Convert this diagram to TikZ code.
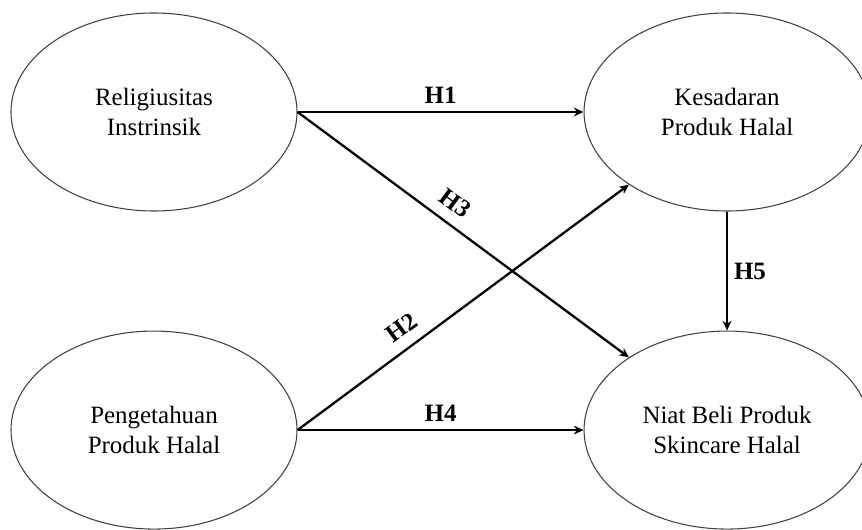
\documentclass[tikz,border=0pt]{standalone}
\usepackage{fontspec}
\setmainfont{Liberation Serif}
\usepackage{tikz}
\usetikzlibrary{positioning,arrows.meta,shapes.geometric}

\begin{document}
\begin{tikzpicture}[
    node distance=2.38cm and 5.72cm,
    construct/.style={ellipse, draw=black!75, line width=0.6pt, minimum width=5.72cm,
                      minimum height=3.96cm, inner sep=0pt, align=center,
                      font=\fontsize{14.2pt}{17pt}\selectfont},
    arrow/.style={-{Stealth[length=5.5pt,width=5pt]}, line width=1.3pt},
    hlabel/.style={font=\fontsize{14.2pt}{17pt}\selectfont\bfseries},
]
  \useasboundingbox (-3.08,2.24) rectangle (14.16,-8.36);

  \node[construct] (rel) {Religiusitas\\Instrinsik};
  \node[construct, right=of rel] (kes) {Kesadaran\\Produk Halal};
  \node[construct, below=of rel] (peng) {Pengetahuan\\Produk Halal};
  \node[construct, right=of peng] (niat) {Niat Beli Produk\\Skincare Halal};

  \draw[arrow] (rel.east) -- node[hlabel, above=1pt] {H1} (kes.west);
  \draw[arrow] (rel.east) -- node[hlabel, pos=0.44, above=3pt, sloped] {H3} (niat);
  \draw[arrow] (peng.east) -- node[hlabel, pos=0.35, above=3pt, sloped] {H2} (kes);
  \draw[arrow] (peng.east) -- node[hlabel, above=1pt] {H4} (niat.west);
  \draw[arrow] (kes.south) -- node[hlabel, right] {H5} (niat.north);
\end{tikzpicture}
\end{document}
